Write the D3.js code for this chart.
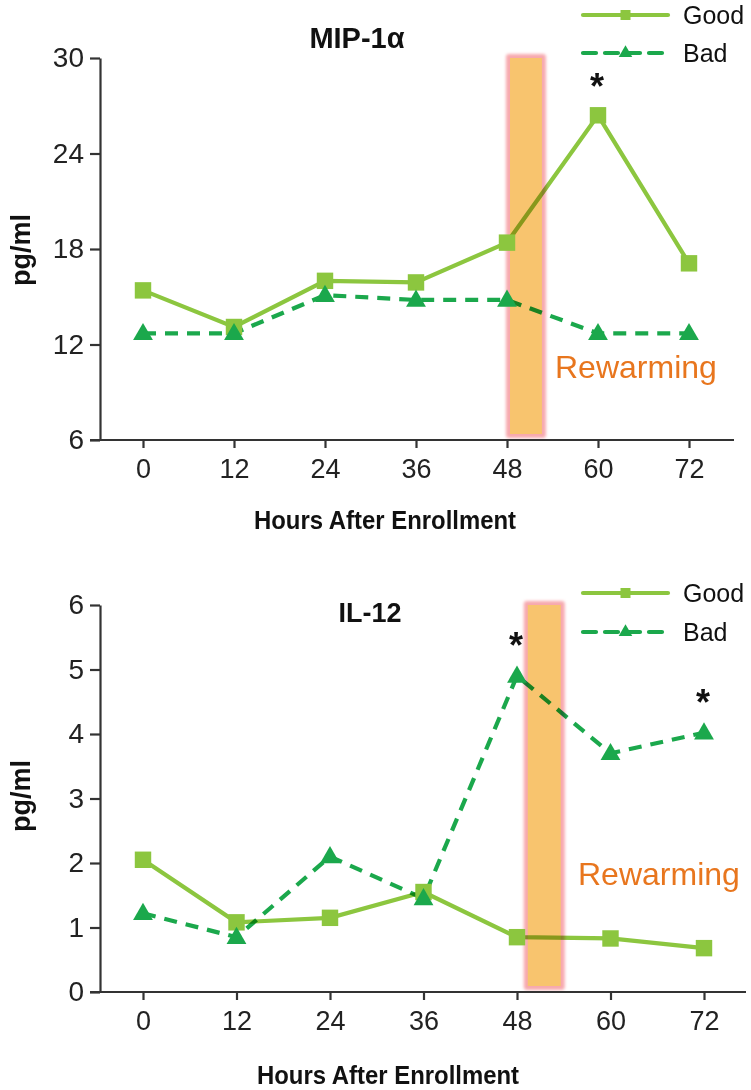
<!DOCTYPE html>
<html>
<head>
<meta charset="utf-8">
<script src="https://cdn.jsdelivr.net/npm/d3@7"></script>
<style>
  html, body { margin: 0; padding: 0; background: #fff; }
  svg { display: block; font-family: "Liberation Sans", Arial, sans-serif; }
</style>
</head>
<body>
<svg id="chart" width="751" height="1090"></svg>
<script>
// ---------------- data ----------------
const hours = [0, 12, 24, 36, 48, 60, 72];
const seriesNames = ["Good", "Bad"];

const mipGood = [15.4, 13.1, 16.0, 15.9, 18.4, 26.4, 17.1];
const mipBad  = [12.7, 12.7, 15.1, 14.8, 14.8, 12.7, 12.7];
const mipTicks = [6, 12, 18, 24, 30];
const mipRewarm = [48, 53];
const mipStars = [{series: "Good", hour: 60}];

const il12Good = [2.05, 1.08, 1.15, 1.55, 0.85, 0.83, 0.68];
const il12Bad  = [1.22, 0.85, 2.10, 1.45, 4.90, 3.70, 4.02];
const il12Ticks = [0, 1, 2, 3, 4, 5, 6];
const il12Rewarm = [49, 54];
const il12Stars = [{series: "Bad", hour: 48}, {series: "Bad", hour: 72}];

const titles = ["MIP-1\u03B1", "IL-12"];
const yLabel = "pg/ml";
const xLabel = "Hours After Enrollment";
const bandLabel = "Rewarming";

// ---------------- style ----------------
const GOOD = "#8cc63f";
const BAD = "#1ba84c";
const AXIS = "#333";

const svg = d3.select("#chart");
const defs = svg.append("defs");
defs.append("filter").attr("id", "glow").attr("x", "-50%").attr("y", "-10%").attr("width", "200%").attr("height", "120%")
  .append("feGaussianBlur").attr("stdDeviation", 1.6);

function panel(opt) {
  const g = svg.append("g");
  const x = d3.scaleLinear().domain([0, 72]).range([opt.x0, opt.x72]);
  const y = d3.scaleLinear().domain(opt.yDomain).range([opt.yBottom, opt.yTop]);

  // rewarming band (drawn first; lines are multiplied over it)
  const bx0 = x(opt.rewarm[0]), bx1 = x(opt.rewarm[1]);
  const by0 = y(opt.yDomain[1]) - 3, by1 = y(opt.yDomain[0]) - 3;
  g.append("rect").attr("x", bx0 - 1).attr("y", by0 - 1).attr("width", bx1 - bx0 + 2).attr("height", by1 - by0 + 2)
    .attr("rx", 3).attr("fill", "#f7a9ae").attr("filter", "url(#glow)");
  g.append("rect").attr("x", bx0 + 3).attr("y", by0 + 3).attr("width", bx1 - bx0 - 6).attr("height", by1 - by0 - 6)
    .attr("fill", "#f8c46e");
  g.append("text").attr("x", opt.bandLabelX).attr("y", opt.bandLabelY)
    .attr("font-size", 32).attr("fill", "#e8761e").text(bandLabel);

  // axes
  const yAxis = d3.axisLeft(y).tickValues(opt.yTicks).tickFormat(d3.format("d"))
    .tickSize(10).tickPadding(6).tickSizeOuter(0);
  const ya = g.append("g").attr("transform", `translate(${opt.axisX},0)`).call(yAxis);
  ya.select(".domain").attr("stroke", AXIS).attr("stroke-width", 2.2);
  ya.selectAll(".tick line").attr("stroke", AXIS).attr("stroke-width", 2.2);
  ya.selectAll(".tick text").attr("font-size", 28).attr("fill", "#222")
    .attr("font-family", "'Liberation Sans', Arial, sans-serif");

  const xAxis = d3.axisBottom(x).tickValues(hours).tickSize(8).tickPadding(11).tickSizeOuter(0);
  const xa = g.append("g").attr("transform", `translate(0,${opt.yBottom})`).call(xAxis);
  xa.select(".domain").attr("d", `M${opt.axisX - 10},0H${opt.axisRight}`).attr("stroke", AXIS).attr("stroke-width", 2.2);
  xa.selectAll(".tick line").attr("stroke", AXIS).attr("stroke-width", 2.2);
  xa.selectAll(".tick text").attr("font-size", 27).attr("fill", "#222")
    .attr("font-family", "'Liberation Sans', Arial, sans-serif");

  // lines (multiplied over the band)
  const line = d3.line().x((d, i) => x(hours[i])).y(d => y(d));
  g.append("path").datum(opt.good).attr("d", line).attr("fill", "none")
    .attr("stroke", GOOD).attr("stroke-width", 4.2).attr("stroke-linejoin", "miter")
    .style("mix-blend-mode", "multiply");
  g.append("path").datum(opt.bad).attr("d", line).attr("fill", "none")
    .attr("stroke", BAD).attr("stroke-width", 4.2).attr("stroke-dasharray", "13,9")
    .style("mix-blend-mode", "multiply");

  // markers
  const sq = d3.symbol().type(d3.symbolSquare).size(270);
  const tri = d3.symbol().type(d3.symbolTriangle).size(170);
  g.selectAll(".sq").data(opt.good).join("path").attr("class", "sq")
    .attr("d", sq).attr("fill", GOOD)
    .attr("transform", (d, i) => `translate(${x(hours[i])},${y(d)})`);
  g.selectAll(".tri").data(opt.bad).join("path").attr("class", "tri")
    .attr("d", tri).attr("fill", BAD)
    .attr("transform", (d, i) => `translate(${x(hours[i])},${y(d) + 1})`);

  // asterisks
  opt.stars.forEach(s => {
    const vals = s.series === "Good" ? opt.good : opt.bad;
    const v = vals[hours.indexOf(s.hour)];
    g.append("text").attr("x", x(s.hour) - 1).attr("y", y(v) - opt.starOff)
      .attr("text-anchor", "middle").attr("font-size", 36).attr("font-weight", "bold").attr("fill", "#111").text("*");
  });

  // title
  g.append("text").attr("x", opt.titleX).attr("y", opt.titleY).attr("text-anchor", "middle")
    .attr("font-size", opt.titleSize).attr("font-weight", "bold").attr("fill", "#111").text(opt.title);

  // y label
  g.append("text").attr("transform", `translate(${opt.yLabelX},${opt.yLabelY}) rotate(-90)`)
    .attr("text-anchor", "middle").attr("font-size", 27).attr("font-weight", "bold").attr("fill", "#111").text(yLabel);

  // x label
  g.append("text").attr("transform", `translate(${opt.xLabelX},${opt.xLabelY}) scale(0.92,1)`)
    .attr("text-anchor", "middle")
    .attr("font-size", 26).attr("font-weight", "bold").attr("fill", "#111").text(xLabel);

  // legend
  const lg = g.append("g");
  seriesNames.forEach((name, i) => {
    const ly = opt.legendY + i * opt.legendGap;
    const col = name === "Good" ? GOOD : BAD;
    lg.append("line").attr("x1", 583).attr("x2", 668).attr("y1", ly).attr("y2", ly)
      .attr("stroke", col).attr("stroke-width", 4.2).attr("stroke-linecap", "round")
      .attr("stroke-dasharray", name === "Good" ? null : "13,9");
    lg.append("path").attr("d", d3.symbol().type(name === "Good" ? d3.symbolSquare : d3.symbolTriangle).size(name === "Good" ? 100 : 80))
      .attr("fill", col).attr("transform", `translate(625.5,${ly})`);
    lg.append("text").attr("x", 683).attr("y", ly).attr("dy", "0.35em")
      .attr("font-size", 25).attr("fill", "#111").text(name);
  });
}

panel({
  good: mipGood, bad: mipBad, yTicks: mipTicks, yDomain: [6, 30],
  rewarm: mipRewarm, stars: mipStars, title: titles[0], titleSize: 29,
  x0: 143, x72: 689, axisX: 100, axisRight: 734, yTop: 58, yBottom: 440,
  bandLabelX: 555, bandLabelY: 378, starOff: 16,
  titleX: 357, titleY: 48, yLabelX: 30, yLabelY: 250, xLabelX: 385, xLabelY: 529,
  legendY: 15, legendGap: 38
});

panel({
  good: il12Good, bad: il12Bad, yTicks: il12Ticks, yDomain: [0, 6],
  rewarm: il12Rewarm, stars: il12Stars, title: titles[1], titleSize: 27,
  x0: 143, x72: 704, axisX: 100, axisRight: 746, yTop: 605, yBottom: 992,
  bandLabelX: 578, bandLabelY: 885, starOff: 18,
  titleX: 370, titleY: 622, yLabelX: 30, yLabelY: 796, xLabelX: 388, xLabelY: 1084,
  legendY: 593, legendGap: 39
});
</script>
</body>
</html>
